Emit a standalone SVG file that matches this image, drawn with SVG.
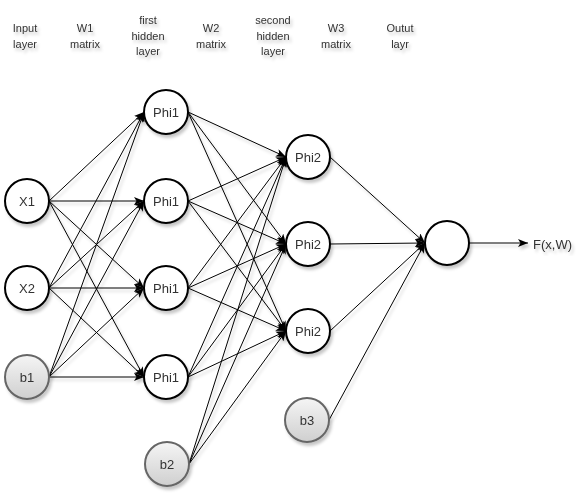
<svg xmlns="http://www.w3.org/2000/svg" width="584" height="496" viewBox="0 0 584 496">
<style>
.lbl{font-family:"Liberation Sans",Arial,sans-serif;font-size:11px;fill:#333;text-anchor:middle}
.nt{font-family:"Liberation Sans",Arial,sans-serif;font-size:13px;fill:#333;text-anchor:middle;dominant-baseline:central}
.n{fill:#fff;stroke:#000;stroke-width:2}
.b{fill:url(#bg);stroke:#666;stroke-width:2}
.e{stroke:#000;stroke-width:1;fill:none;marker-end:url(#arr)}
</style>
<defs>
<linearGradient id="bg" x1="0" y1="0" x2="0" y2="1">
<stop offset="0" stop-color="#f5f5f5"/>
<stop offset="1" stop-color="#cfcfcf"/>
</linearGradient>
<filter id="sh" x="-20%" y="-20%" width="150%" height="150%">
<feDropShadow dx="2" dy="3" stdDeviation="1.5" flood-color="#000" flood-opacity="0.22"/>
</filter>
<marker id="arr" markerUnits="userSpaceOnUse" markerWidth="10" markerHeight="8" refX="10" refY="4" orient="auto">
<path d="M0,0 L10,4 L0,8 L2.5,4 Z" fill="#000"/>
</marker>
</defs>
<g id="labels" filter="url(#sh)">
<text class="lbl" x="25" y="32">Input</text><text class="lbl" x="25" y="48">layer</text>
<text class="lbl" x="85" y="32">W1</text><text class="lbl" x="85" y="48">matrix</text>
<text class="lbl" x="148" y="24">first</text><text class="lbl" x="148" y="39.5">hidden</text><text class="lbl" x="148" y="55">layer</text>
<text class="lbl" x="211" y="32">W2</text><text class="lbl" x="211" y="48">matrix</text>
<text class="lbl" x="273" y="24">second</text><text class="lbl" x="273" y="39.5">hidden</text><text class="lbl" x="273" y="55">layer</text>
<text class="lbl" x="336" y="32">W3</text><text class="lbl" x="336" y="48">matrix</text>
<text class="lbl" x="400" y="32">Outut</text><text class="lbl" x="400" y="48">layr</text>
</g>
<g id="connectors" filter="url(#sh)">
<line class="e" x1="49" y1="201" x2="144" y2="112"/>
<line class="e" x1="49" y1="201" x2="144" y2="201"/>
<line class="e" x1="49" y1="201" x2="144" y2="288"/>
<line class="e" x1="49" y1="201" x2="144" y2="377"/>
<line class="e" x1="49" y1="288" x2="144" y2="112"/>
<line class="e" x1="49" y1="288" x2="144" y2="201"/>
<line class="e" x1="49" y1="288" x2="144" y2="288"/>
<line class="e" x1="49" y1="288" x2="144" y2="377"/>
<line class="e" x1="49" y1="377" x2="144" y2="112"/>
<line class="e" x1="49" y1="377" x2="144" y2="201"/>
<line class="e" x1="49" y1="377" x2="144" y2="288"/>
<line class="e" x1="49" y1="377" x2="144" y2="377"/>
<line class="e" x1="188" y1="112" x2="286" y2="157"/>
<line class="e" x1="188" y1="112" x2="286" y2="244"/>
<line class="e" x1="188" y1="112" x2="286" y2="331"/>
<line class="e" x1="188" y1="201" x2="286" y2="157"/>
<line class="e" x1="188" y1="201" x2="286" y2="244"/>
<line class="e" x1="188" y1="201" x2="286" y2="331"/>
<line class="e" x1="188" y1="288" x2="286" y2="157"/>
<line class="e" x1="188" y1="288" x2="286" y2="244"/>
<line class="e" x1="188" y1="288" x2="286" y2="331"/>
<line class="e" x1="188" y1="377" x2="286" y2="157"/>
<line class="e" x1="188" y1="377" x2="286" y2="244"/>
<line class="e" x1="188" y1="377" x2="286" y2="331"/>
<line class="e" x1="189" y1="464" x2="286" y2="157"/>
<line class="e" x1="189" y1="464" x2="286" y2="244"/>
<line class="e" x1="189" y1="464" x2="286" y2="331"/>
<line class="e" x1="330" y1="157" x2="425" y2="243"/>
<line class="e" x1="330" y1="244" x2="425" y2="243"/>
<line class="e" x1="330" y1="331" x2="425" y2="243"/>
<line class="e" x1="329" y1="420" x2="425" y2="243"/>
<line class="e" x1="469" y1="243" x2="528" y2="243"/>
</g>
<g id="X1" filter="url(#sh)"><circle class="n" cx="27" cy="201" r="22"/><text class="nt" x="27" y="201">X1</text></g>
<g id="X2" filter="url(#sh)"><circle class="n" cx="27" cy="288" r="22"/><text class="nt" x="27" y="288">X2</text></g>
<g id="b1" filter="url(#sh)"><circle class="b" cx="27" cy="377" r="22"/><text class="nt" x="27" y="377">b1</text></g>
<g id="phi1a" filter="url(#sh)"><circle class="n" cx="166" cy="112" r="22"/><text class="nt" x="166" y="112">Phi1</text></g>
<g id="phi1b" filter="url(#sh)"><circle class="n" cx="166" cy="201" r="22"/><text class="nt" x="166" y="201">Phi1</text></g>
<g id="phi1c" filter="url(#sh)"><circle class="n" cx="166" cy="288" r="22"/><text class="nt" x="166" y="288">Phi1</text></g>
<g id="phi1d" filter="url(#sh)"><circle class="n" cx="166" cy="377" r="22"/><text class="nt" x="166" y="377">Phi1</text></g>
<g id="b2" filter="url(#sh)"><circle class="b" cx="167" cy="464" r="22"/><text class="nt" x="167" y="464">b2</text></g>
<g id="phi2a" filter="url(#sh)"><circle class="n" cx="308" cy="157" r="22"/><text class="nt" x="308" y="157">Phi2</text></g>
<g id="phi2b" filter="url(#sh)"><circle class="n" cx="308" cy="244" r="22"/><text class="nt" x="308" y="244">Phi2</text></g>
<g id="phi2c" filter="url(#sh)"><circle class="n" cx="308" cy="331" r="22"/><text class="nt" x="308" y="331">Phi2</text></g>
<g id="b3" filter="url(#sh)"><circle class="b" cx="307" cy="420" r="22"/><text class="nt" x="307" y="420">b3</text></g>
<g id="out" filter="url(#sh)"><circle class="n" cx="447" cy="243" r="22"/></g>
<g id="fxw" filter="url(#sh)"><text class="nt" x="533" y="244" style="text-anchor:start">F(x,W)</text></g>
</svg>
